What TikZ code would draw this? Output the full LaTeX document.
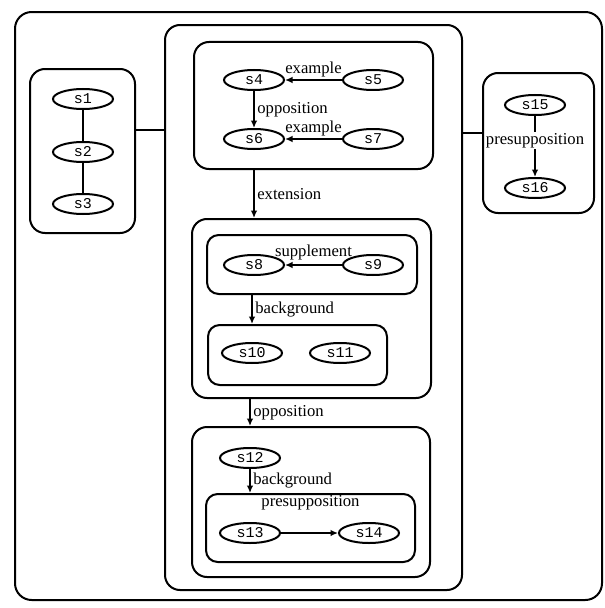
\documentclass[tikz,border=0pt]{standalone}
\usepackage{fontspec}
\setmainfont{Liberation Serif}
\setmonofont{Liberation Mono}
\usetikzlibrary{shapes.geometric, arrows.meta}

\tikzset{
  sent/.style={draw, ellipse, line width=1.2pt, minimum width=36pt, minimum height=12pt, inner sep=0pt, font=\ttfamily\small},
  group/.style={draw, rounded corners=9pt, line width=1.2pt, inner sep=0pt},
  rel/.style={-{Latex[length=4.5pt,width=4pt]}, line width=1pt},
  lab/.style={inner sep=1.5pt}
}

\begin{document}
\begin{tikzpicture}[x=0.6pt, y=-0.6pt]
\useasboundingbox (0,0) rectangle (604,608);
% Boxes
\node [group, rounded corners=10pt, minimum width=352.2pt, minimum height=352.8pt] (outer) at (308.5,306) {};
\node [group, minimum width=178.2pt, minimum height=339pt] (mid) at (313.5,307.5) {};
\node [group, minimum width=63pt, minimum height=98.4pt] (left) at (82.5,151) {};
\node [group, minimum width=66.6pt, minimum height=84pt] (right) at (538.5,143) {};
\node [group, minimum width=143.4pt, minimum height=76.2pt] (top) at (313.5,105.5) {};
\node [group, minimum width=143.4pt, minimum height=107.4pt] (second) at (311.5,308.5) {};
\node [group, rounded corners=7pt, minimum width=126pt, minimum height=35.4pt] (boxA) at (312,264.5) {};
\node [group, rounded corners=7pt, minimum width=107.4pt, minimum height=36pt] (boxB) at (297.5,355) {};
\node [group, minimum width=142.8pt, minimum height=90pt] (third) at (311,502) {};
\node [group, rounded corners=7pt, minimum width=125.4pt, minimum height=40.8pt] (boxC) at (310.5,528) {};
% Sentences
\node [sent] (s1) at (83,99) {s1};
\node [sent] (s2) at (83,152) {s2};
\node [sent] (s3) at (83,204) {s3};
\node [sent] (s4) at (254,80) {s4};
\node [sent] (s5) at (373,80) {s5};
\node [sent] (s6) at (254,139) {s6};
\node [sent] (s7) at (373,139) {s7};
\node [sent] (s8) at (254,265) {s8};
\node [sent] (s9) at (373,265) {s9};
\node [sent] (s10) at (252,353) {s10};
\node [sent] (s11) at (340,353) {s11};
\node [sent] (s12) at (250,458) {s12};
\node [sent] (s13) at (250,533) {s13};
\node [sent] (s14) at (369,533) {s14};
\node [sent] (s15) at (535,105) {s15};
\node [sent] (s16) at (535,188) {s16};
% Links
\draw [line width=1.2pt] (s1) -- (s2) -- (s3);
\draw [line width=1.2pt] ([yshift=12.6pt]left.east) -- ([yshift=12.6pt]left.east -| mid.west);
\draw [line width=1.2pt] ([yshift=6pt]right.west) -- ([yshift=6pt]right.west -| mid.east);
% Relations
\draw [rel] (s5) -- (s4) node [lab, midway, above] {example};
\draw [rel] (s4) -- (s6) node [lab, midway, right] {opposition};
\draw [rel] (s7) -- (s6) node [lab, midway, above] {example};
\draw [rel] (top.south -| s6) -- (second.north -| s6) node [lab, midway, right] {extension};
\draw [rel] (s9) -- (s8) node [lab, midway, above, yshift=1pt] {supplement};
\draw [rel] (boxA.south -| s10) -- (boxB.north -| s10) node [lab, midway, right] {background};
\draw [rel] (second.south -| s12) -- (third.north -| s12) node [lab, midway, right] {opposition};
\draw [rel] (s12) -- (boxC.north -| s12) node [lab, midway, right] {background};
\node [lab, below] (presC) at (boxC.north) {presupposition};
\draw [rel] (s13) -- (s14);
\draw [rel] (s15) -- (s16) node [lab, pos=0.4, fill=white, inner sep=0.5pt] {presupposition};
\end{tikzpicture}
\end{document}
